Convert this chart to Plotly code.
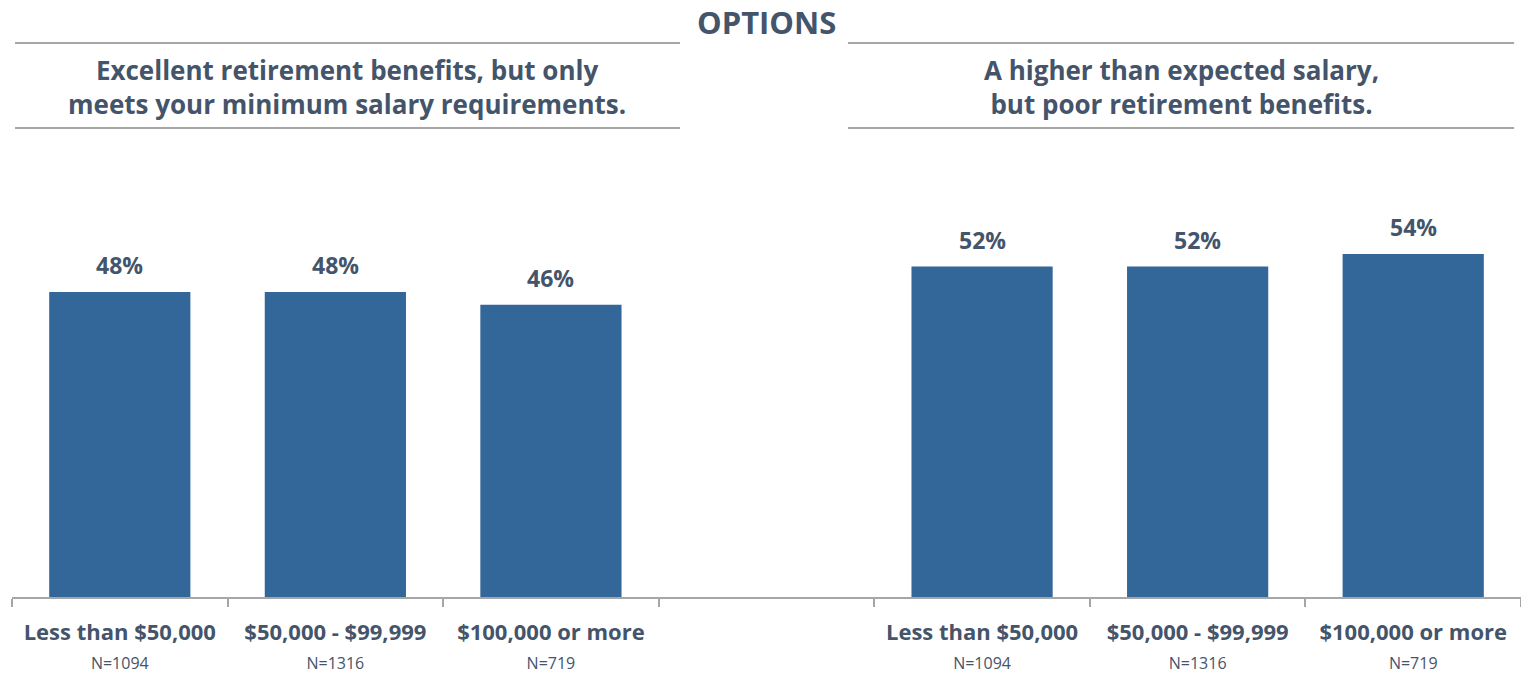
import plotly.graph_objects as go

income = ['Less than $50,000', '$50,000 - $99,999', '$100,000 or more']
n_sizes = ['N=1094', 'N=1316', 'N=719']
retirement_pct = [48, 48, 46]
salary_pct = [52, 52, 54]
option_titles = ['Excellent retirement benefits, but only<br>meets your minimum salary requirements.',
                 'A higher than expected salary,<br>but poor retirement benefits.']

TEXT = '#44546A'
BAR = '#336699'
GRID = '#A6A6A6'
FONT = 'Open Sans'

# one category axis: 3 bars, an empty gap slot, 3 bars
keys_left = ['L%d' % i for i in range(3)]
keys_right = ['R%d' % i for i in range(3)]
categories = keys_left + ['gap'] + keys_right
labels = ['<b>%s</b><br><span style="font-size:16px">%s</span>' % (a, b) for a, b in zip(income, n_sizes)]

fig = go.Figure()
for keys, vals in [(keys_left, retirement_pct), (keys_right, salary_pct)]:
    fig.add_trace(go.Bar(x=keys, y=vals, marker_color=BAR, marker_line_width=0,
                         hoverinfo='skip', showlegend=False))
    for k, v in zip(keys, vals):
        fig.add_annotation(x=k, y=v, text='<b>%d%%</b>' % v, showarrow=False,
                           yanchor='bottom', yshift=9, font=dict(size=23, color=TEXT, family=FONT))

fig.update_layout(
    width=1521, height=674,
    margin=dict(l=12, r=0, t=150, b=77),
    plot_bgcolor='white', paper_bgcolor='white',
    bargap=0.345,
    font=dict(family=FONT, color=TEXT),
    xaxis=dict(type='category', categoryorder='array', categoryarray=categories,
               tickvals=categories, ticktext=labels[:3] + [''] + labels,
               tickson='boundaries', ticks='outside', ticklen=8, tickwidth=2, tickcolor=GRID,
               showline=True, linecolor=GRID, linewidth=2, showgrid=False, ticklabelstandoff=15,
               tickfont=dict(size=22, color=TEXT, family=FONT), range=[-0.5, 6.5]),
    yaxis=dict(range=[0, 70.35], visible=False, showgrid=False, zeroline=False),
)

# header
fig.add_annotation(xref='paper', yref='paper', x=0.5, y=1.286, xanchor='center', yanchor='middle',
                   text='<b>OPTIONS</b>', showarrow=False, font=dict(size=31, color=TEXT, family=FONT))
for x0, x1, xc, title in [(0.002, 0.4427, 0.222, option_titles[0]), (0.554, 0.9954, 0.7747, option_titles[1])]:
    for yl in [1.2394, 1.0492]:
        fig.add_shape(type='line', xref='paper', yref='paper', x0=x0, x1=x1, y0=yl, y1=yl,
                      line=dict(color=GRID, width=2))
    fig.add_annotation(xref='paper', yref='paper', x=xc, y=1.141, xanchor='center', yanchor='middle',
                       text='<b>%s</b>' % title, showarrow=False, font=dict(size=26, color=TEXT, family=FONT))

# drop the default 8px body margin so the figure fills the window
fig.write_html('out.html', config={'displayModeBar': False},
               post_script="document.body.style.margin='0';")
